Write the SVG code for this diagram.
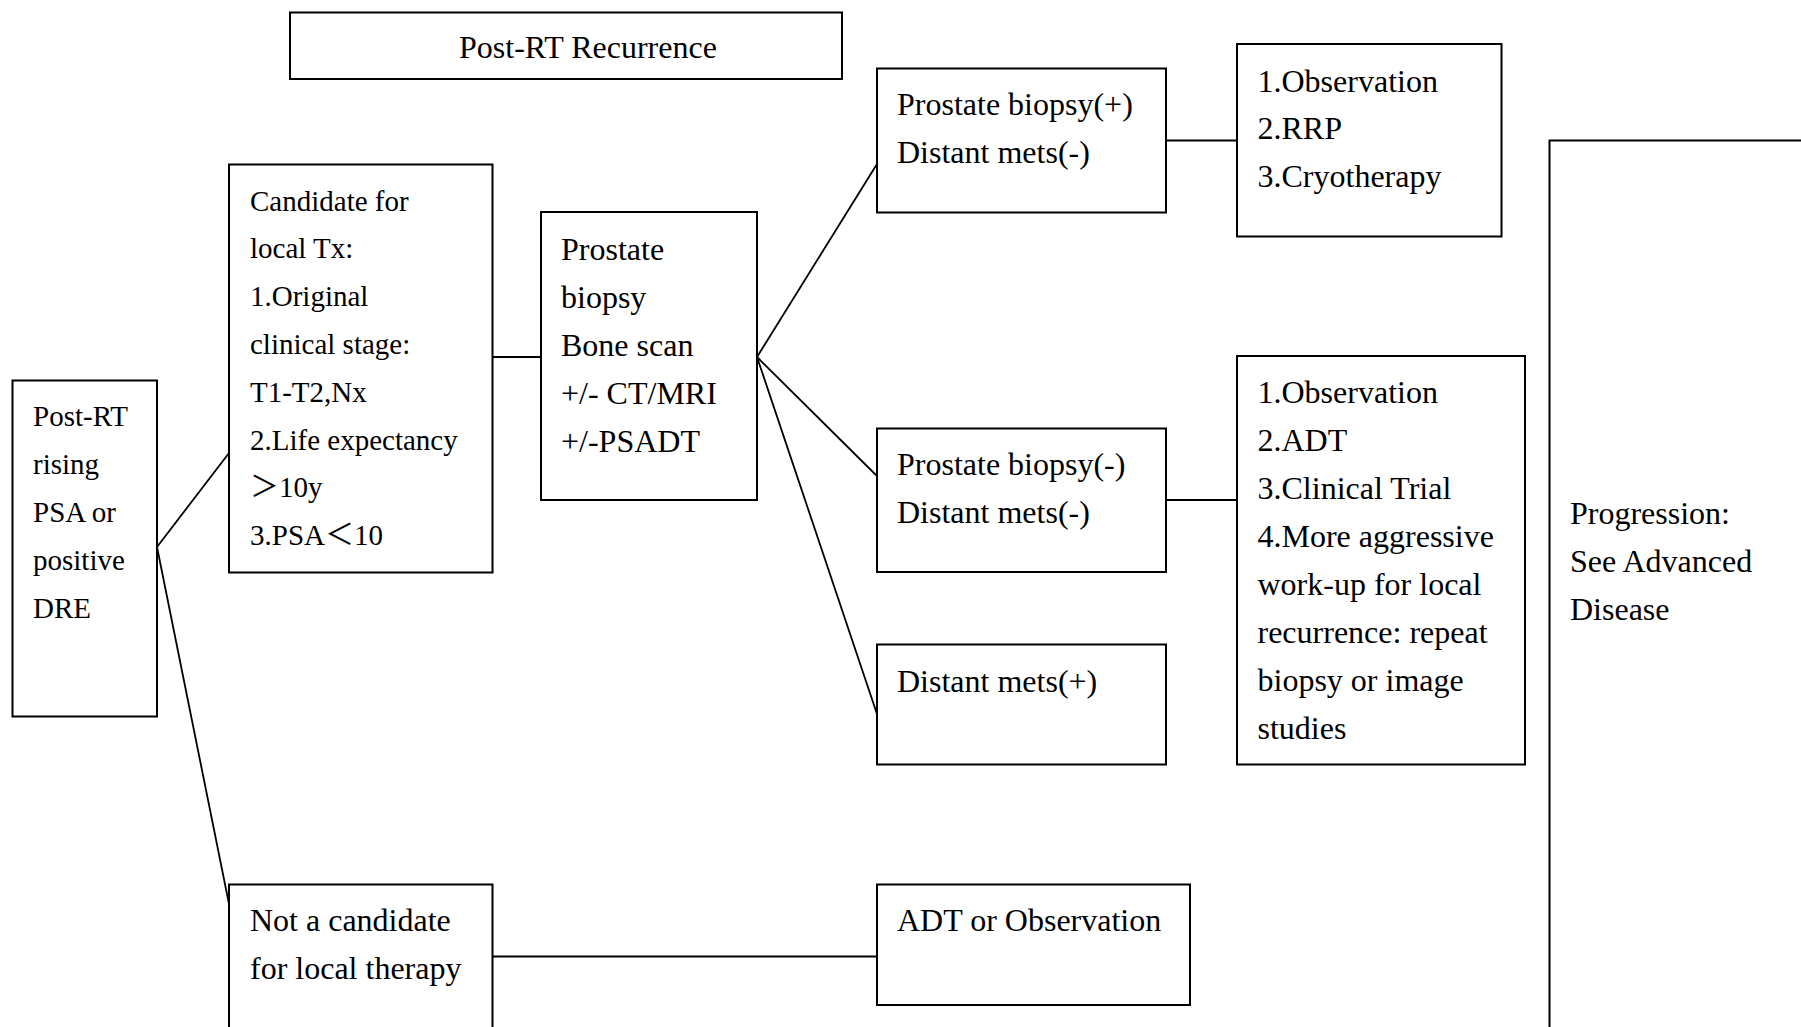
<svg xmlns="http://www.w3.org/2000/svg" width="1801" height="1027" viewBox="0 0 1801 1027">
<style>
rect { fill: #fff; stroke: #000; stroke-width: 2; }
#connectors line { stroke: #000; stroke-width: 1.8; }
text { font-family: "Liberation Serif", "Noto Sans CJK SC", serif; fill: #000; }
.a { font-size: 32px; }
.b { font-size: 29px; }
</style>
<rect x="0" y="0" width="1801" height="1027" style="stroke:none"/>
<g id="connectors">
<line x1="157" y1="547" x2="229" y2="453"/>
<line x1="157" y1="547" x2="229" y2="904"/>
<line x1="492.5" y1="357" x2="541" y2="357"/>
<line x1="757" y1="357" x2="877" y2="164"/>
<line x1="757" y1="357" x2="877" y2="476"/>
<line x1="757" y1="357" x2="877" y2="714"/>
<line x1="1166" y1="140.5" x2="1237" y2="140.5"/>
<line x1="1166" y1="500" x2="1237" y2="500"/>
<line x1="492.5" y1="956.5" x2="877" y2="956.5"/>
</g>
<g id="title">
<rect x="290" y="12.5" width="552" height="66.5"/>
<text class="a" x="459" y="58">Post-RT Recurrence</text>
</g>
<g id="start">
<rect x="12.5" y="380.5" width="144.5" height="336"/>
<text class="b" x="33" y="426">Post-RT</text>
<text class="b" x="33" y="474">rising</text>
<text class="b" x="33" y="522">PSA or</text>
<text class="b" x="33" y="570">positive</text>
<text class="b" x="33" y="618">DRE</text>
</g>
<g id="candidate">
<rect x="229" y="164.5" width="263.5" height="408"/>
<text class="b" x="250" y="210.5">Candidate for</text>
<text class="b" x="250" y="258">local Tx:</text>
<text class="b" x="250" y="306">1.Original</text>
<text class="b" x="250" y="354">clinical stage:</text>
<text class="b" x="250" y="402">T1-T2,Nx</text>
<text class="b" x="250" y="449.5">2.Life expectancy</text>
<text class="b" x="250" y="497">＞10y</text>
<text class="b" x="250" y="545">3.PSA＜10</text>
</g>
<g id="workup">
<rect x="541" y="212" width="216" height="288"/>
<text class="a" x="561" y="259.5">Prostate</text>
<text class="a" x="561" y="307.5">biopsy</text>
<text class="a" x="561" y="355.5">Bone scan</text>
<text class="a" x="561" y="403.5">+/- CT/MRI</text>
<text class="a" x="561" y="451.5">+/-PSADT</text>
</g>
<g id="biopsy-pos">
<rect x="877" y="68.5" width="289" height="144"/>
<text class="a" x="897" y="115">Prostate biopsy(+)</text>
<text class="a" x="897" y="162.5">Distant mets(-)</text>
</g>
<g id="options-pos">
<rect x="1237" y="44" width="264.5" height="192.5"/>
<text class="a" x="1257.5" y="91.5">1.Observation</text>
<text class="a" x="1257.5" y="139">2.RRP</text>
<text class="a" x="1257.5" y="187">3.Cryotherapy</text>
</g>
<g id="biopsy-neg">
<rect x="877" y="428.5" width="289" height="143.5"/>
<text class="a" x="897" y="475">Prostate biopsy(-)</text>
<text class="a" x="897" y="522.5">Distant mets(-)</text>
</g>
<g id="options-neg">
<rect x="1237" y="356" width="288" height="408.5"/>
<text class="a" x="1257.5" y="403">1.Observation</text>
<text class="a" x="1257.5" y="451">2.ADT</text>
<text class="a" x="1257.5" y="499">3.Clinical Trial</text>
<text class="a" x="1257.5" y="547">4.More aggressive</text>
<text class="a" x="1257.5" y="595">work-up for local</text>
<text class="a" x="1257.5" y="642.5">recurrence: repeat</text>
<text class="a" x="1257.5" y="690.5">biopsy or image</text>
<text class="a" x="1257.5" y="738.5">studies</text>
</g>
<g id="mets-pos">
<rect x="877" y="644.5" width="289" height="120"/>
<text class="a" x="897" y="691.5">Distant mets(+)</text>
</g>
<g id="not-candidate">
<rect x="229" y="884.5" width="263.5" height="170"/>
<text class="a" x="250" y="931">Not a candidate</text>
<text class="a" x="250" y="979">for local therapy</text>
</g>
<g id="adt">
<rect x="877" y="884.5" width="313" height="120.5"/>
<text class="a" x="897" y="931">ADT or Observation</text>
</g>
<g id="progression">
<rect x="1549.5" y="140.5" width="300" height="920"/>
<text class="a" x="1570" y="524">Progression:</text>
<text class="a" x="1570" y="571.5">See Advanced</text>
<text class="a" x="1570" y="619.5">Disease</text>
</g>
</svg>
